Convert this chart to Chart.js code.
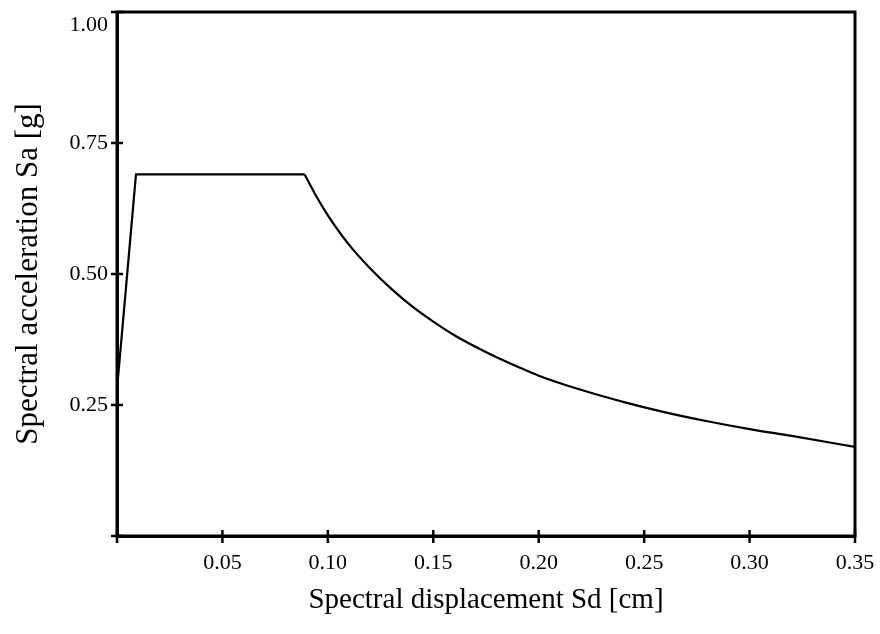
<!DOCTYPE html>
<html>
<head>
<meta charset="utf-8">
<script src="https://cdn.jsdelivr.net/npm/chart.js@4"></script>
<style>
  body { margin: 0; background: #fff; }
  #wrap { width: 880px; height: 634px; }
</style>
</head>
<body>
<div id="wrap"><canvas id="grafico" width="880" height="634"></canvas></div>
<script>
// valores lidos da figura
// trecho reto: subida e patamar
const sdReta = [0, 0.009, 0.089];
const saReta = [0.28, 0.69, 0.69];
// trecho curvo (decaimento)
const sdCurva = [0.089, 0.095, 0.10, 0.11, 0.12, 0.13, 0.14, 0.15, 0.16, 0.17, 0.18, 0.19, 0.20, 0.22, 0.24, 0.26, 0.28, 0.30, 0.32, 0.35];
const saCurva = [0.69, 0.645, 0.612, 0.556, 0.511, 0.472, 0.438, 0.409, 0.383, 0.361, 0.341, 0.323, 0.306, 0.279, 0.256, 0.236, 0.219, 0.204, 0.191, 0.170];
const xTicks = [0, 0.05, 0.10, 0.15, 0.20, 0.25, 0.30, 0.35];
const yTicks = [0, 0.25, 0.50, 0.75, 1.00];

const fonte = 'Liberation Serif';

// moldura e ticks cruzando os eixos
const moldura = {
  id: 'moldura',
  afterDraw(chart) {
    const {ctx, chartArea: a, scales} = chart;
    ctx.save();
    ctx.strokeStyle = '#000';
    ctx.lineWidth = 3;
    ctx.strokeRect(a.left, a.top, a.right - a.left, a.bottom - a.top);
    ctx.lineWidth = 2.5;
    ctx.beginPath();
    xTicks.forEach(v => {
      const px = scales.x.getPixelForValue(v);
      ctx.moveTo(px, a.bottom - 6);
      ctx.lineTo(px, a.bottom + 7);
    });
    yTicks.forEach(v => {
      const py = scales.y.getPixelForValue(v);
      ctx.moveTo(a.left - 6, py);
      ctx.lineTo(a.left + 6, py);
    });
    ctx.stroke();
    ctx.restore();
  }
};

const linha = {
  borderColor: '#000',
  borderWidth: 2.2,
  pointRadius: 0,
  fill: false
};

new Chart(document.getElementById('grafico'), {
  type: 'line',
  data: {
    datasets: [
      { ...linha, data: sdReta.map((v, i) => ({x: v, y: saReta[i]})), tension: 0 },
      { ...linha, data: sdCurva.map((v, i) => ({x: v, y: saCurva[i]})), cubicInterpolationMode: 'monotone' }
    ]
  },
  options: {
    responsive: false,
    animation: false,
    layout: { padding: { left: 0, top: 12, right: 25, bottom: 0 } },
    plugins: { legend: { display: false }, tooltip: { enabled: false } },
    scales: {
      x: {
        type: 'linear',
        min: 0, max: 0.35,
        afterFit: s => { s.height = 98; s.paddingLeft = 0; s.paddingRight = 0; },
        afterBuildTicks: s => { s.ticks = xTicks.map(v => ({value: v})); },
        grid: { display: false, drawTicks: false },
        border: { display: true, color: '#000', width: 3 },
        ticks: {
          padding: 14,
          color: '#000',
          font: { family: fonte, size: 22 },
          callback: v => v === 0 ? '' : v.toFixed(2)
        },
        title: {
          display: true,
          text: 'Spectral displacement Sd [cm]',
          color: '#000',
          font: { family: fonte, size: 29 },
          padding: { top: 0, bottom: 16 }
        }
      },
      y: {
        type: 'linear',
        min: 0, max: 1,
        afterFit: s => { s.width = 117; s.paddingTop = 0; s.paddingBottom = 0; },
        afterBuildTicks: s => { s.ticks = yTicks.map(v => ({value: v})); },
        grid: { display: false, drawTicks: false },
        border: { display: true, color: '#000', width: 3 },
        ticks: {
          padding: 9,
          color: '#000',
          font: { family: fonte, size: 22 },
          // rótulo do topo fica um pouco abaixo da moldura
          callback: v => v === 0 ? '' : (v === 1 ? ['', '1.00'] : v.toFixed(2))
        },
        title: {
          display: true,
          text: 'Spectral acceleration Sa [g]',
          color: '#000',
          font: { family: fonte, size: 31 },
          padding: { top: 10, bottom: 0 }
        }
      }
    }
  },
  plugins: [moldura]
});
</script>
</body>
</html>
